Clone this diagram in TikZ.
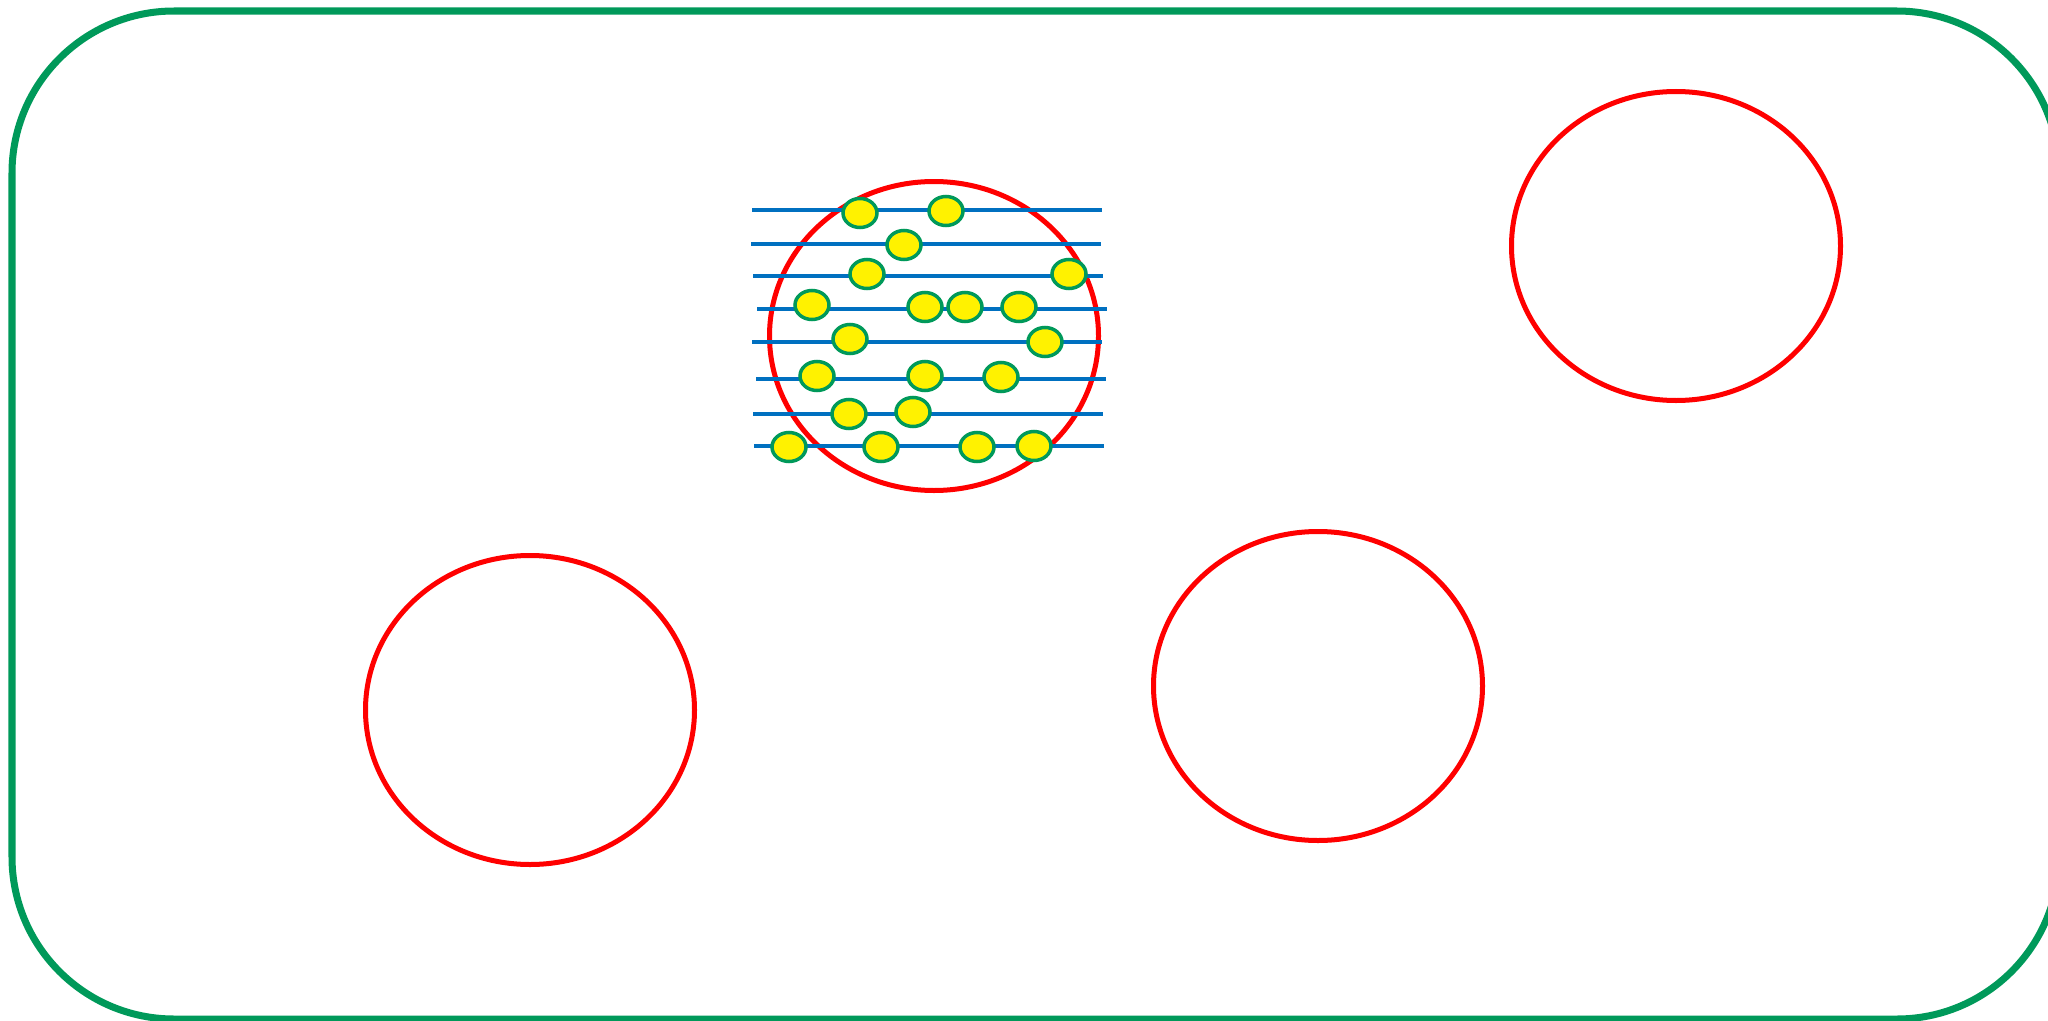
\documentclass[tikz,border=0pt]{standalone}
\usepackage{xcolor}
\usepackage{tikz}

\definecolor{framegreen}{RGB}{0,153,90}
\definecolor{wireblue}{RGB}{0,112,192}
\tikzset{
  frame/.style={draw=framegreen, line width=0.07cm, rounded corners=1.62cm},
  cell/.style={draw=red, line width=0.05cm},
  wire/.style={draw=wireblue, line width=0.04cm},
  bead/.style={draw=framegreen, fill=yellow, line width=0.035cm},
}

\begin{document}
\begin{tikzpicture}[x=0.01cm, y=-0.01cm]
  \def\rx{17}
  \def\ry{14.5}
  \useasboundingbox (0,0) rectangle (2048,1021);
  \clip (0,0) rectangle (2048,1021);
  \draw[frame] (12,11) rectangle (2059,1019);
  % cells
  \draw[cell] (934,336)  ellipse [x radius=164.5, y radius=154.5];
  \draw[cell] (1676,246) ellipse [x radius=164.5, y radius=154.5];
  \draw[cell] (530,710)  ellipse [x radius=164.5, y radius=154.5];
  \draw[cell] (1318,686) ellipse [x radius=164.5, y radius=154.5];
  % wires
  \draw[wire] (752,210) -- (1102,210);
  \draw[wire] (751,244) -- (1101,244);
  \draw[wire] (753,276) -- (1103,276);
  \draw[wire] (757,309) -- (1107,309);
  \draw[wire] (752,342) -- (1102,342);
  \draw[wire] (756,379) -- (1106,379);
  \draw[wire] (753,414) -- (1103,414);
  \draw[wire] (754,446) -- (1104,446);
  % beads
  \draw[bead] (860,213) ellipse [x radius=\rx, y radius=\ry];
  \draw[bead] (946,211) ellipse [x radius=\rx, y radius=\ry];
  \draw[bead] (904,245) ellipse [x radius=\rx, y radius=\ry];
  \draw[bead] (867,274) ellipse [x radius=\rx, y radius=\ry];
  \draw[bead] (1069,274) ellipse [x radius=\rx, y radius=\ry];
  \draw[bead] (812,305) ellipse [x radius=\rx, y radius=\ry];
  \draw[bead] (925,307) ellipse [x radius=\rx, y radius=\ry];
  \draw[bead] (965,307) ellipse [x radius=\rx, y radius=\ry];
  \draw[bead] (1019,307) ellipse [x radius=\rx, y radius=\ry];
  \draw[bead] (850,339) ellipse [x radius=\rx, y radius=\ry];
  \draw[bead] (1045,342) ellipse [x radius=\rx, y radius=\ry];
  \draw[bead] (817,376) ellipse [x radius=\rx, y radius=\ry];
  \draw[bead] (925,376) ellipse [x radius=\rx, y radius=\ry];
  \draw[bead] (1001,377) ellipse [x radius=\rx, y radius=\ry];
  \draw[bead] (849,414) ellipse [x radius=\rx, y radius=\ry];
  \draw[bead] (913,412) ellipse [x radius=\rx, y radius=\ry];
  \draw[bead] (789,447) ellipse [x radius=\rx, y radius=\ry];
  \draw[bead] (881,447) ellipse [x radius=\rx, y radius=\ry];
  \draw[bead] (977,447) ellipse [x radius=\rx, y radius=\ry];
  \draw[bead] (1034,446) ellipse [x radius=\rx, y radius=\ry];
\end{tikzpicture}
\end{document}
